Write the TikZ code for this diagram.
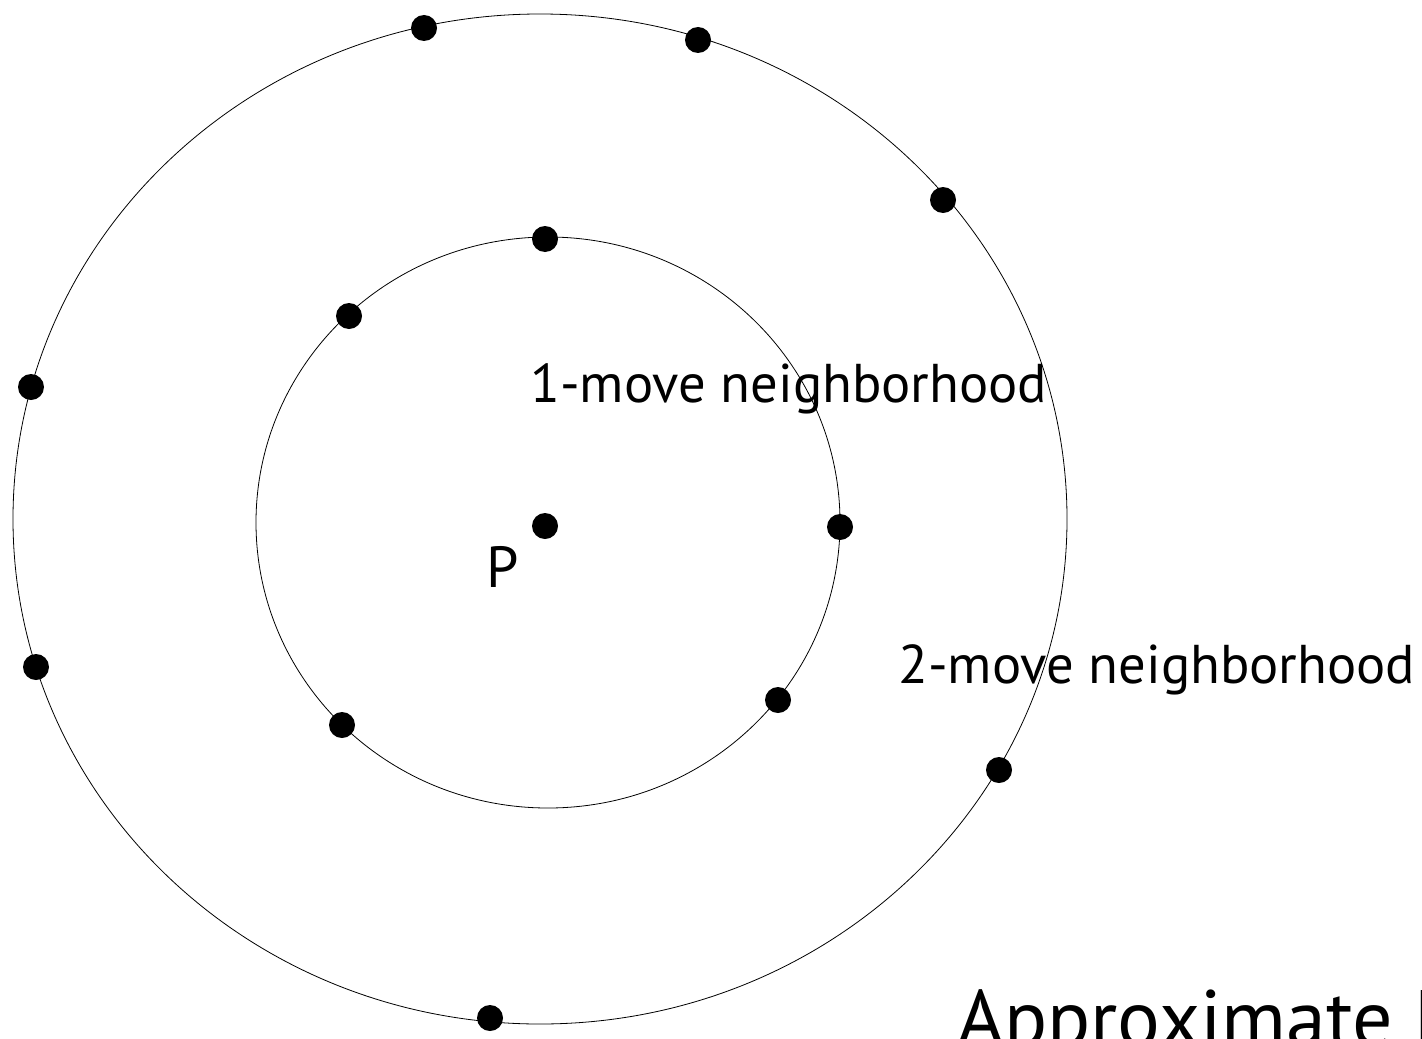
\documentclass[tikz,border=0pt]{standalone}
\usepackage{fontspec}
\setmainfont{PT Sans}
\tikzset{
  dot/.style={circle, fill=black, inner sep=0pt, minimum width=12pt, minimum height=13pt},
  ring/.style={draw=black, line width=0.4pt},
  lbl/.style={anchor=base west, inner sep=0pt, font=\fontsize{27.3}{33}\selectfont},
}
\begin{document}
\begin{tikzpicture}[x=0.5pt,y=0.5pt,yscale=-1]
\useasboundingbox (0,0) rectangle (1422,1038);
% neighbourhood rings
\draw[ring] (540,519) ellipse [x radius=527, y radius=505];
\draw[ring] (548,522.5) ellipse [x radius=292, y radius=285.5];
% centre point
\node[dot] (p) at (545,526) {};
% 1-move points
\node[dot] (a1) at (545,239) {};
\node[dot] (a2) at (349,316) {};
\node[dot] (a3) at (840,527) {};
\node[dot] (a4) at (778,700) {};
\node[dot] (a5) at (342,725) {};
% 2-move points
\node[dot] (b1) at (424,28) {};
\node[dot] (b2) at (698,40) {};
\node[dot] (b3) at (943,200) {};
\node[dot] (b4) at (31,387) {};
\node[dot] (b5) at (36,667) {};
\node[dot] (b6) at (999,770) {};
\node[dot] (b7) at (490,1018) {};
% labels
\node[lbl, font=\fontsize{29}{35}\selectfont] (lp) at (486,587) {P};
\node[lbl] (l1) at (530,402) {1-move neighborhood};
\node[lbl] (l2) at (898,683) {2-move neighborhood};
\node[lbl, font=\fontsize{40}{48}\selectfont] (title) at (957,1046) {Approximate Local};
\end{tikzpicture}
\end{document}
